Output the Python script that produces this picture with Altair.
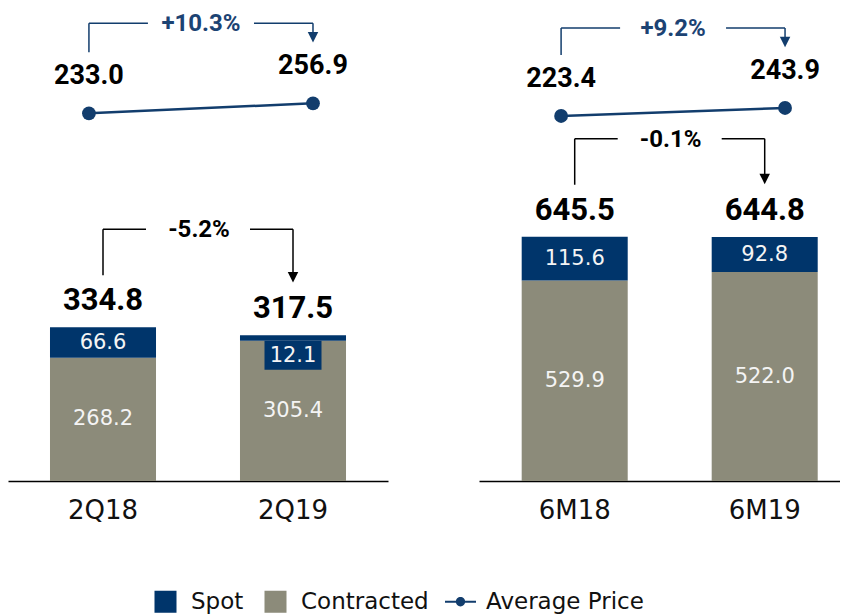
import altair as alt
import pandas as pd

# ---------------- data ----------------
q_cats = ["2Q18", "2Q19"]
q_spot = [66.6, 12.1]
q_contracted = [268.2, 305.4]
q_total = [334.8, 317.5]
q_price = [233.0, 256.9]
q_volume_change = "-5.2%"
q_price_change = "+10.3%"

h_cats = ["6M18", "6M19"]
h_spot = [115.6, 92.8]
h_contracted = [529.9, 522.0]
h_total = [645.5, 644.8]
h_price = [223.4, 243.9]
h_volume_change = "-0.1%"
h_price_change = "+9.2%"

legend_items = ["Spot", "Contracted", "Average Price"]

# ---------------- style ----------------
NAVY = "#00356B"
GREY = "#8C8B7A"
LINE = "#123D6D"
PCT_NAVY = "#1C4373"
REG = "DejaVu Sans"
BOLD = "Roboto"
H = 473

TRI = "M-1,-1L1,-1L0,1Z"
SQ = "M-0.71,-0.71L0.71,-0.71L0.71,0.71L-0.71,0.71Z"
LINE_SHAPE = ("M-1,-0.07L1,-0.07L1,0.07L-1,0.07Z "
              "M0.3,0A0.3,0.3 0 1,1 -0.3,0A0.3,0.3 0 1,1 0.3,0Z")


def panel(cats, spot, cont, total, price, vchg, pchg, width, vol_max,
          price_dom, band_po, band_align, pt_pad, pt_align):
    df = pd.DataFrame({"cat": cats, "spot": spot, "cont": cont,
                       "total": total, "price": price})
    df["split"] = df["total"] - df["spot"]
    df["zero"] = 0.0
    df["spot_mid"] = df["split"] + df["spot"] / 2
    df["cont_mid"] = df["split"] / 2
    df["spot_txt"] = df["spot"].map(lambda v: f"{v:.1f}")
    df["cont_txt"] = df["cont"].map(lambda v: f"{v:.1f}")
    df["total_txt"] = df["total"].map(lambda v: f"{v:.1f}")
    df["price_txt"] = df["price"].map(lambda v: f"{v:.1f}")
    small = df[df["spot"] < 30]
    big = df[df["spot"] >= 30]

    arr = pd.DataFrame({
        "cat1": [cats[0]], "cat2": [cats[1]],
        "t1": [total[0]], "t2": [total[1]], "tmax": [max(total)],
        "p1": [price[0]], "p2": [price[1]], "pmax": [max(price)],
        "vlab": [vchg], "plab": [pchg],
    })

    axis = alt.Axis(title=None, ticks=False, labelAngle=0, labelFont=REG,
                    labelFontSize=26, labelColor="#111111", labelPadding=16,
                    domainColor="#000000", domainWidth=1.5, grid=False)
    bscale = alt.Scale(type="band", domain=cats, paddingInner=0.442,
                       paddingOuter=band_po, align=band_align)
    vscale = alt.Scale(domain=[0, vol_max], nice=False, zero=True)

    def XB(f):
        return alt.X(f, type="nominal", scale=bscale, axis=axis)

    def YV(f):
        return alt.Y(f, type="quantitative", scale=vscale, axis=None)

    base = alt.Chart(df)
    cont_bar = base.mark_bar(color=GREY).encode(x=XB("cat"), y=YV("split"), y2=alt.Y2("zero"))
    spot_bar = base.mark_bar(color=NAVY).encode(x=XB("cat"), y=YV("total"), y2=alt.Y2("split"))
    box = alt.Chart(small).mark_bar(color=NAVY, width=57, y2Offset=29).encode(
        x=XB("cat"), y=YV("split"), y2=alt.Y2("split"))
    txt_kw = dict(font=REG, fontSize=21, color="#F4F4F4", baseline="middle", align="center")
    spot_txt = alt.Chart(big).mark_text(**txt_kw).encode(x=XB("cat"), y=YV("spot_mid"), text="spot_txt:N")
    spot_txt2 = alt.Chart(small).mark_text(yOffset=15, **txt_kw).encode(
        x=XB("cat"), y=YV("split"), text="spot_txt:N")
    cont_txt = base.mark_text(**txt_kw).encode(x=XB("cat"), y=YV("cont_mid"), text="cont_txt:N")
    tot_txt = base.mark_text(font=BOLD, fontWeight="bold", fontSize=31, color="#000000",
                             baseline="middle", align="center", yOffset=-26).encode(
        x=XB("cat"), y=YV("total"), text="total_txt:N")

    a = alt.Chart(arr)
    rk = dict(color="#000000", strokeWidth=1.5)
    v1 = a.mark_rule(yOffset=-52, y2Offset=-98, **rk).encode(x=XB("cat1"), y=YV("t1"), y2=alt.Y2("tmax"))
    h1 = a.mark_rule(x2Offset=43, yOffset=-98, **rk).encode(x=XB("cat1"), x2=alt.X2("cat1"), y=YV("tmax"))
    h2 = a.mark_rule(xOffset=-43, yOffset=-98, **rk).encode(x=XB("cat2"), x2=alt.X2("cat2"), y=YV("tmax"))
    v2 = a.mark_rule(yOffset=-98, y2Offset=-60, **rk).encode(x=XB("cat2"), y=YV("tmax"), y2=alt.Y2("t2"))
    head = a.mark_point(shape=TRI, filled=True, size=110, opacity=1, color="#000000",
                        yOffset=-58).encode(x=XB("cat2"), y=YV("t2"))
    vpct = a.mark_text(font=BOLD, fontWeight="bold", fontSize=24, color="#000000",
                       baseline="middle", align="center", xOffset=96, yOffset=-97).encode(
        x=XB("cat1"), y=YV("tmax"), text="vlab:N")

    vol_layer = alt.layer(cont_bar, spot_bar, box, spot_txt, spot_txt2, cont_txt, tot_txt,
                          v1, h1, h2, v2, head, vpct)

    pscale_x = alt.Scale(type="point", domain=cats, padding=pt_pad, align=pt_align)
    pscale_y = alt.Scale(domain=price_dom, nice=False, zero=False)

    def XP(f):
        return alt.X(f, type="nominal", scale=pscale_x, axis=None)

    def YP(f):
        return alt.Y(f, type="quantitative", scale=pscale_y, axis=None)

    pline = base.mark_line(color=LINE, strokeWidth=2.5).encode(x=XP("cat"), y=YP("price"))
    pdots = base.mark_point(filled=True, size=190, color=LINE, opacity=1).encode(x=XP("cat"), y=YP("price"))
    plab = base.mark_text(font=BOLD, fontWeight="bold", fontSize=27, color="#000000",
                          baseline="middle", align="center", yOffset=-37).encode(
        x=XP("cat"), y=YP("price"), text="price_txt:N")
    pk = dict(color=LINE, strokeWidth=1.5)
    pv1 = a.mark_rule(yOffset=-61, y2Offset=-80, **pk).encode(x=XP("cat1"), y=YP("p1"), y2=alt.Y2("pmax"))
    ph1 = a.mark_rule(x2Offset=59, yOffset=-80, **pk).encode(x=XP("cat1"), x2=alt.X2("cat1"), y=YP("pmax"))
    ph2 = a.mark_rule(xOffset=-59, yOffset=-80, **pk).encode(x=XP("cat2"), x2=alt.X2("cat2"), y=YP("pmax"))
    pv2 = a.mark_rule(yOffset=-80, y2Offset=-64, **pk).encode(x=XP("cat2"), y=YP("pmax"), y2=alt.Y2("p2"))
    phead = a.mark_point(shape=TRI, filled=True, size=110, opacity=1, color=LINE,
                         yOffset=-66).encode(x=XP("cat2"), y=YP("p2"))
    ppct = a.mark_text(font=BOLD, fontWeight="bold", fontSize=24, color=PCT_NAVY,
                       baseline="middle", align="center", xOffset=112, yOffset=-79).encode(
        x=XP("cat1"), y=YP("pmax"), text="plab:N")

    price_layer = alt.layer(pline, pdots, plab, pv1, ph1, ph2, pv2, phead, ppct)

    return alt.layer(vol_layer, price_layer).resolve_scale(
        x="independent", y="independent").properties(width=width, height=H)


left = panel(q_cats, q_spot, q_contracted, q_total, q_price, q_volume_change, q_price_change,
             380, 1030, [-646.7, 484.9], 0.221, 0.5, 0.348, 0.519)
right = panel(h_cats, h_spot, h_contracted, h_total, h_price, h_volume_change, h_price_change,
              361, 1250, [-712.5, 500.3], 0.171, 0.657, 0.306, 0.599)

leg_df = pd.DataFrame({"series": legend_items})
leg_kw = dict(title=None, orient="none", legendX=142, legendY=578, direction="horizontal",
              symbolSize=961, symbolOpacity=1, symbolStrokeWidth=0, labelFont=REG,
              labelFontSize=23, labelColor="#111111", labelOffset=10, columnPadding=16,
              padding=0)
legend_chart = alt.Chart(leg_df).mark_point(filled=True, opacity=0, size=0).encode(
    color=alt.Color("series:N", scale=alt.Scale(domain=legend_items, range=[NAVY, GREY, LINE]),
                    legend=alt.Legend(**leg_kw)),
    shape=alt.Shape("series:N", scale=alt.Scale(domain=legend_items, range=[SQ, SQ, LINE_SHAPE]),
                    legend=alt.Legend(**leg_kw)),
).properties(width=832, height=1)

chart = alt.vconcat(
    alt.hconcat(left, right, spacing=91),
    legend_chart,
    spacing=0,
).properties(padding=0, background="white").configure_view(stroke=None)

chart.save("out.html", embed_options={"renderer": "svg", "actions": False})
